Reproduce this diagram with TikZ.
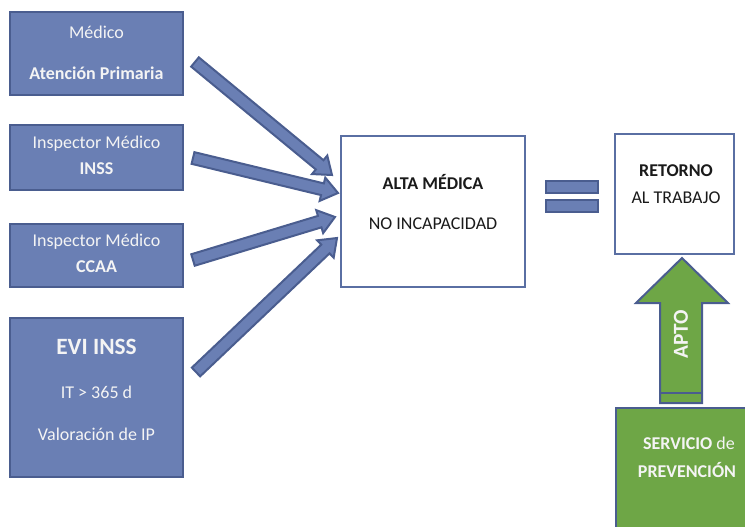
\documentclass[tikz,border=0pt]{standalone}
\usepackage{fontspec}
\setmainfont{Carlito}
\usetikzlibrary{calc}
\definecolor{bfill}{HTML}{6A7FB4}
\definecolor{bdark}{HTML}{4A5D8F}
\definecolor{bline}{HTML}{5A6FA3}
\definecolor{gfill}{HTML}{6EA646}
\definecolor{ltxt}{HTML}{F4F4F4}
\definecolor{dtxt}{HTML}{1A1A1A}
\newcommand\blockarrow[2]{%
  \coordinate (hb) at ($(#2)!12pt!(#1)$);
  \draw[barrow] ($(#1)!4.5pt!90:(#2)$) -- ($(hb)!4.5pt!90:(#2)$) -- ($(hb)!9pt!90:(#2)$) -- (#2)
    -- ($(hb)!9pt!-90:(#2)$) -- ($(hb)!4.5pt!-90:(#2)$) -- ($(#1)!4.5pt!-90:(#2)$) -- cycle;}
\tikzset{
  bluebox/.style={draw=bdark, fill=bfill, line width=2pt, minimum width=129.75pt, inner sep=0pt},
  whitebox/.style={draw=bline, fill=white, line width=1.5pt, inner sep=0pt},
  barrow/.style={draw=bdark, fill=bfill, line width=1.5pt, line join=miter},
  ltext/.style={text=ltxt, font=\fontsize{13.5}{16}\selectfont, inner sep=0pt},
  dtext/.style={text=dtxt, font=\fontsize{13.5}{16}\selectfont, inner sep=0pt},
}
\begin{document}
\begin{tikzpicture}[x=0.75pt,y=-0.75pt]
\useasboundingbox (0,0) rectangle (745,527);
\clip (0,0) rectangle (745,527);
% left boxes
\node[bluebox, minimum height=62.25pt] (b1) at (96.5,53.5) {};
\node[bluebox, minimum height=48.75pt] (b2) at (96.5,157.5) {};
\node[bluebox, minimum height=47.25pt] (b3) at (96.5,255.5) {};
\node[bluebox, minimum height=119.25pt] (b4) at (96.5,397.5) {};
\node[ltext] (t1a) at (96.5,32) {Médico};
\node[ltext] (t1b) at (96.5,73) {\textbf{Atención Primaria}};
\node[ltext] (t2a) at (96.5,144) {Inspector Médico};
\node[ltext] (t2b) at (96.5,169) {\textbf{INSS}};
\node[ltext] (t3a) at (96.5,242) {Inspector Médico};
\node[ltext] (t3b) at (96.5,267) {\textbf{CCAA}};
\node[ltext, font=\fontsize{17.5}{20}\selectfont\bfseries] (t4a) at (96.5,347) {EVI INSS};
\node[ltext] (t4b) at (96.5,392) {IT > 365 d};
\node[ltext] (t4c) at (96.5,434) {Valoración de IP};
% centre box
\node[whitebox, minimum width=138pt, minimum height=113.25pt] (c) at (433,211.5) {};
\node[dtext] (c1) at (433,182) {\textbf{ALTA MÉDICA}};
\node[dtext] (c2) at (433,224) {NO INCAPACIDAD};
% arrows
\coordinate (a1s) at (195,62);  \coordinate (a1e) at (332,175);
\coordinate (a2s) at (193,158); \coordinate (a2e) at (338,193);
\coordinate (a3s) at (193,260); \coordinate (a3e) at (335,217);
\coordinate (a4s) at (196,372); \coordinate (a4e) at (337,238);
\blockarrow{a1s}{a1e}
\blockarrow{a2s}{a2e}
\blockarrow{a3s}{a3e}
\blockarrow{a4s}{a4e}
% equals sign
\node[draw=bdark, fill=bfill, line width=1.5pt, minimum width=39pt, minimum height=9pt, inner sep=0pt] (eq1) at (572,187) {};
\node[draw=bdark, fill=bfill, line width=1.5pt, minimum width=39pt, minimum height=9pt, inner sep=0pt] (eq2) at (572,206) {};
% retorno box
\node[whitebox, line width=2pt, minimum width=89.25pt, minimum height=90pt] (r) at (674.5,194) {};
\node[dtext] (r1) at (676,171) {\textbf{RETORNO}};
\node[dtext] (r2) at (676,198) {AL TRABAJO};
% green arrow
\draw[draw=bdark, fill=gfill, line width=1.5pt, line join=miter]
  (682,258) -- (728,303) -- (702,303) -- (702,403) -- (660,403) -- (660,303) -- (636,303) -- cycle;
\draw[bdark, line width=1.5pt] (660,393) -- (702,393);
\node[text=ltxt, font=\fontsize{16}{18}\selectfont\bfseries, rotate=90, inner sep=0pt] (apto) at (681,334) {APTO};
% servicio box
\node[draw=bdark, fill=gfill, line width=1.5pt, minimum width=120pt, minimum height=110pt, inner sep=0pt, anchor=north west] (s) at (615,407) {};
\node[ltext] (s1) at (689,443) {\textbf{SERVICIO} de};
\node[ltext] (s2) at (687,470) {\textbf{PREVENCIÓN}};
\end{tikzpicture}
\end{document}
